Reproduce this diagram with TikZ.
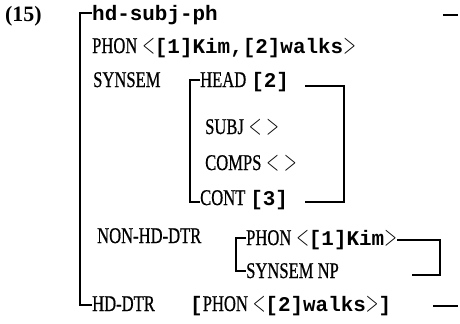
\documentclass[tikz,border=0pt]{standalone}
\usepackage{graphicx}
\usepackage{fontspec}
\setmainfont{Liberation Serif}
\setmonofont{Liberation Mono}
\newfontfamily\capf[FakeBold=0.8]{Liberation Serif}
\newcommand\cn[1]{{\capf\fontsize{22.5}{26}\selectfont\scalebox{0.74}[1]{#1}}}
\newcommand\tb[1]{{\ttfamily\bfseries\fontsize{21}{24}\selectfont #1}}
\newcommand\la{\scalebox{0.8}[1.4]{$<$}}
\newcommand\ra{\scalebox{0.8}[1.4]{$>$}}
\begin{document}
\begin{tikzpicture}[x=1bp,y=-1bp,
  txt/.style={anchor=base west,inner sep=0pt,font=\fontsize{20}{24}\selectfont},
  brk/.style={line width=1.4bp}]
\useasboundingbox (0,0) rectangle (460,323);
\node[txt] (num) at (5,21) {\fontsize{22}{26}\selectfont\textbf{(15)}};
\node[txt] (hd) at (92,20) {\tb{hd-subj-ph}};
\node[txt] (phon) at (92,53) {\cn{PHON} \la\tb{[1]Kim,[2]walks}\ra};
\node[txt] (synsem) at (93,87) {\cn{SYNSEM}};
\node[txt] (head) at (200,87) {\cn{HEAD} \tb{[2]}};
\node[txt] (subj) at (205,134) {\cn{SUBJ} \la\ \ra};
\node[txt] (comps) at (205,170) {\cn{COMPS} \la\ \ra};
\node[txt] (cont) at (200,205) {\cn{CONT} \tb{[3]}};
\node[txt] (nonhd) at (97,243) {\cn{NON-HD-DTR}};
\node[txt] (phon2) at (246,245) {\cn{PHON} \la\tb{[1]Kim}\ra};
\node[txt] (synnp) at (246,278) {\cn{SYNSEM NP}};
\node[txt] (hddtr) at (92,311) {\cn{HD-DTR}};
\node[txt] (hdval) at (190,311) {\tb{[}\cn{PHON} \la\tb{[2]walks}\ra\tb{]}};
% outer bracket
\coordinate (o1) at (80,13);
\coordinate (o2) at (80,305);
\draw[brk] (hd.west |- o1) -- (o1) -- (o2) -- (hddtr.west |- o2);
\coordinate (od1) at (443,15);
\coordinate (od2) at (458,15);
\draw[brk] (od1) -- (od2);
\coordinate (od3) at (433,306);
\coordinate (od4) at (458,306);
\draw[brk] (od3) -- (od4);
% inner bracket SYNSEM
\coordinate (i1) at (190,80);
\coordinate (i2) at (190,202);
\draw[brk] (head.west |- i1) -- (i1) -- (i2) -- (cont.west |- i2);
\coordinate (r1) at (305,86);
\coordinate (r2) at (344,86);
\coordinate (r3) at (344,202);
\coordinate (r4) at (305,202);
\draw[brk] (r1) -- (r2) -- (r3) -- (r4);
% NON-HD bracket
\coordinate (n1) at (236,238);
\coordinate (n2) at (236,271);
\draw[brk] (phon2.west |- n1) -- (n1) -- (n2) -- (synnp.west |- n2);
\coordinate (m1) at (phon2.east |- 0,240);
\coordinate (m2) at (440,240);
\coordinate (m3) at (440,275);
\coordinate (m4) at (412,275);
\draw[brk] (m1) -- (m2) -- (m3) -- (m4);
\end{tikzpicture}
\end{document}
